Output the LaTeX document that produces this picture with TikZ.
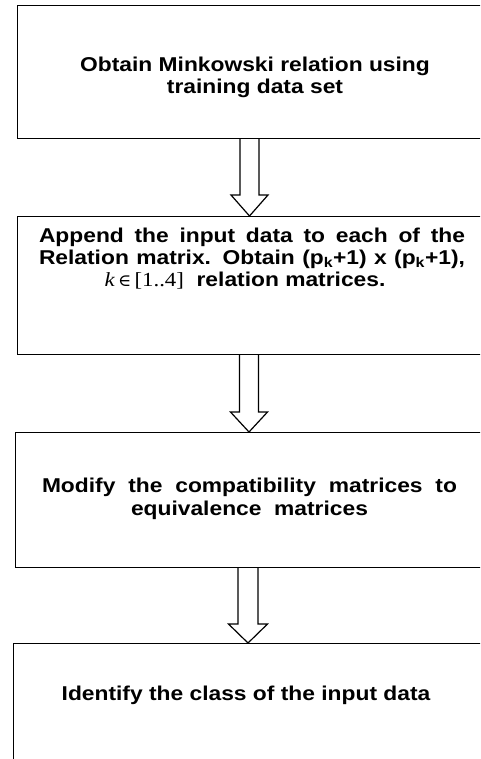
\documentclass[tikz,border=0pt]{standalone}
\usepackage{fontspec}
\setmainfont{Liberation Sans}[FakeStretch=1.14]
\newfontfamily\serifstr{Liberation Serif}[FakeStretch=1.14]
\newfontfamily\symstr{DejaVu Serif}[FakeStretch=1.05]
\usetikzlibrary{calc}
\begin{document}
\begin{tikzpicture}[x=1pt,y=-1pt,
  box/.style={draw, line width=1.2pt, inner sep=0pt, anchor=north west, minimum width=469pt},
  txt/.style={font=\bfseries\fontsize{20}{22}\selectfont, inner sep=0pt, anchor=base},
  hollow/.style={draw, line width=1.2pt, line join=miter}]
\useasboundingbox (0,0) rectangle (480,759);
\clip (0,0) rectangle (480,759);
\fill[white] (0,0) rectangle (480,759);
% boxes
\node[box, minimum height=133pt] (b1) at (17,5) {};
\node[box, minimum height=138pt] (b2) at (17,216) {};
\node[box, minimum height=135pt, minimum width=471pt] (b3) at (15,432) {};
\node[box, minimum height=140pt, minimum width=473pt] (b4) at (13,643) {};
% texts
\node[txt] (t1a) at (255,72) {Obtain Minkowski relation using};
\node[txt] (t1b) at (255,94) {training data set};
\node[txt] (t2a) at (252,242) {\makebox[426pt][s]{Append  the input data  to  each  of  the}};
\node[txt] (t2b) at (252,264) {\makebox[426pt][s]{Relation  matrix. Obtain (p\textsubscript{k}+1) x (p\textsubscript{k}+1),}};
\node[txt] (t2c) at (245,286) {{\serifstr\mdseries\itshape k}\,{\symstr\mdseries\fontsize{17}{18}\selectfont ∈}\,{\serifstr\mdseries [1..4]}\ \ relation matrices.};
\node[txt] (t3a) at (249.5,492) {\makebox[415pt][s]{Modify  the  compatibility  matrices  to}};
\node[txt] (t3b) at (249.5,515) {equivalence\ \ matrices};
\node[txt] (t4) at (246,700) {Identify the class of the input data};
% arrows
\coordinate (c1) at (249.5,0);
\coordinate (c2) at (249,0);
\coordinate (c3) at (248,0);
\draw[hollow] ($(c1|-b1.south)+(-9.5,0)$) -- ($(c1|-b2.north)+(-9.5,-21)$) -- ++(-9,0)
  -- (c1|-b2.north) -- ($(c1|-b2.north)+(18.5,-21)$) -- ++(-9,0) -- ($(c1|-b1.south)+(9.5,0)$);
\draw[hollow] ($(c2|-b2.south)+(-9.5,0)$) -- ($(c2|-b3.north)+(-9.5,-20)$) -- ++(-9,0)
  -- (c2|-b3.north) -- ($(c2|-b3.north)+(18.5,-20)$) -- ++(-9,0) -- ($(c2|-b2.south)+(9.5,0)$);
\draw[hollow] ($(c3|-b3.south)+(-10,0)$) -- ($(c3|-b4.north)+(-10,-19)$) -- ++(-9.5,0)
  -- (c3|-b4.north) -- ($(c3|-b4.north)+(19.5,-19)$) -- ++(-9.5,0) -- ($(c3|-b3.south)+(10,0)$);
\end{tikzpicture}
\end{document}
